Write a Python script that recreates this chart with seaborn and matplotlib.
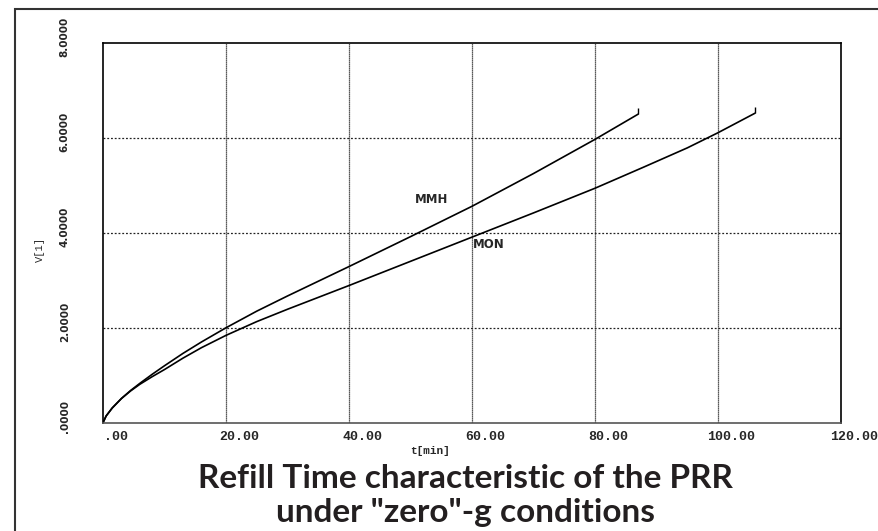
import matplotlib
matplotlib.use("Agg")
import matplotlib.pyplot as plt
import matplotlib.transforms as mtransforms
from matplotlib.patches import Rectangle
import seaborn as sns


### Data:

# MMH curve (upper one)
t_mmh = [0, 0.5, 1.5, 3, 4.5, 6, 8, 10, 13, 16, 20, 25, 30, 35, 40, 50, 60, 70, 80, 87]
v_mmh = [0, 0.14, 0.31, 0.51, 0.68, 0.83, 1.02, 1.20, 1.46, 1.70, 2.00, 2.35, 2.67,
         2.98, 3.29, 3.92, 4.56, 5.25, 5.97, 6.50]

# MON curve (lower one)
t_mon = [0, 0.5, 1.5, 3, 4.5, 6, 8, 10, 13, 16, 20, 25, 30, 35, 40, 50, 60, 70, 80, 88, 95, 100, 106]
v_mon = [0, 0.14, 0.31, 0.51, 0.67, 0.81, 0.97, 1.12, 1.36, 1.58, 1.84, 2.13, 2.39,
         2.64, 2.89, 3.40, 3.91, 4.42, 4.94, 5.39, 5.79, 6.11, 6.52]

# Axis ticks and labels
x_ticks = [0, 20, 40, 60, 80, 100, 120]
x_tick_labels = [".00", "20.00", "40.00", "60.00", "80.00", "100.00", "120.00"]
y_ticks = [0, 2, 4, 6, 8]
y_tick_labels = [".0000", "2.0000", "4.0000", "6.0000", "8.0000"]

title_lines = ["Refill Time characteristic of the PRR", 'under "zero"-g conditions']


### Plot:
sns.set_style("white")

fig = plt.figure(figsize=(8.79, 5.31), dpi=100)
ax = fig.add_axes([0.1172, 0.2040, 0.8396, 0.7150])

sns.lineplot(x=t_mmh, y=v_mmh, color="black", linewidth=1.2, ax=ax)
sns.lineplot(x=t_mon, y=v_mon, color="black", linewidth=1.2, ax=ax)

# small end marks like the plotter left on the curves
ax.plot(t_mmh[-1:], v_mmh[-1:], marker=2, color="black", markersize=4, markeredgewidth=1)
ax.plot(t_mon[-1:], v_mon[-1:], marker=2, color="black", markersize=4, markeredgewidth=1)

ax.set_xlim(0, 120)
ax.set_ylim(0, 8)

# Grid: vertical lines nearly solid, horizontal ones dotted
for t in x_ticks[1:-1]:
    ax.axvline(t, color="#222222", linewidth=0.9, linestyle=(0, (1, 0.6)), zorder=0)
for v in y_ticks[1:-1]:
    ax.axhline(v, color="#222222", linewidth=0.9, linestyle=(0, (1.5, 1.5)), zorder=0)

for side in ["left", "top", "right"]:
    ax.spines[side].set_color("black")
    ax.spines[side].set_linewidth(1.2)
ax.spines["bottom"].set_color("#555555")
ax.spines["bottom"].set_linewidth(1.2)

# Ticks
ax.set_xticks(x_ticks)
ax.set_xticklabels(x_tick_labels, family="Liberation Mono", fontweight="bold", fontsize=9.5)
ax.set_yticks(y_ticks)
ax.set_yticklabels(y_tick_labels, family="DejaVu Sans", fontweight="bold",
                   fontsize=7.5, rotation=90, va="center")
ax.tick_params(axis="x", length=0, pad=6)
ax.tick_params(axis="y", length=0, pad=24)

# the scanned labels sit a bit off their ticks
for lab in ax.get_xticklabels():
    lab.set_transform(lab.get_transform() + mtransforms.ScaledTranslation(0.13, 0, fig.dpi_scale_trans))
for lab in ax.get_yticklabels():
    lab.set_transform(lab.get_transform() + mtransforms.ScaledTranslation(0, 0.06, fig.dpi_scale_trans))

# Axis labels
ax.text(0.443, -0.075, "t[min]", transform=ax.transAxes, ha="center", va="center",
        family="Liberation Mono", fontweight="bold", fontsize=8)
ax.text(-0.0854, 0.455, "V[1]", transform=ax.transAxes, ha="center", va="center",
        rotation=90, family="Liberation Mono", fontsize=7.5)

# Curve names
ax.text(53.5, 4.71, "MMH", ha="center", va="center", fontweight="bold", fontsize=8.5)
ax.text(62.8, 3.76, "MON", ha="center", va="center", fontweight="bold", fontsize=8.5)

# Caption below the chart
fig.text(0.530, 1 - 488 / 531, title_lines[0], ha="center", va="baseline",
         family="Lato", fontweight="bold", fontsize=24, color="#231f20")
fig.text(0.530, 1 - 522 / 531, title_lines[1], ha="center", va="baseline",
         family="Lato", fontweight="bold", fontsize=24, color="#231f20")

# Frame around the whole figure
fig.patches.append(Rectangle((15 / 879, -0.01), 1.0, 1 - 8.7 / 531 + 0.01,
                             transform=fig.transFigure, fill=False,
                             edgecolor="#333333", linewidth=1.5))

plt.savefig("out.png", dpi=100)
